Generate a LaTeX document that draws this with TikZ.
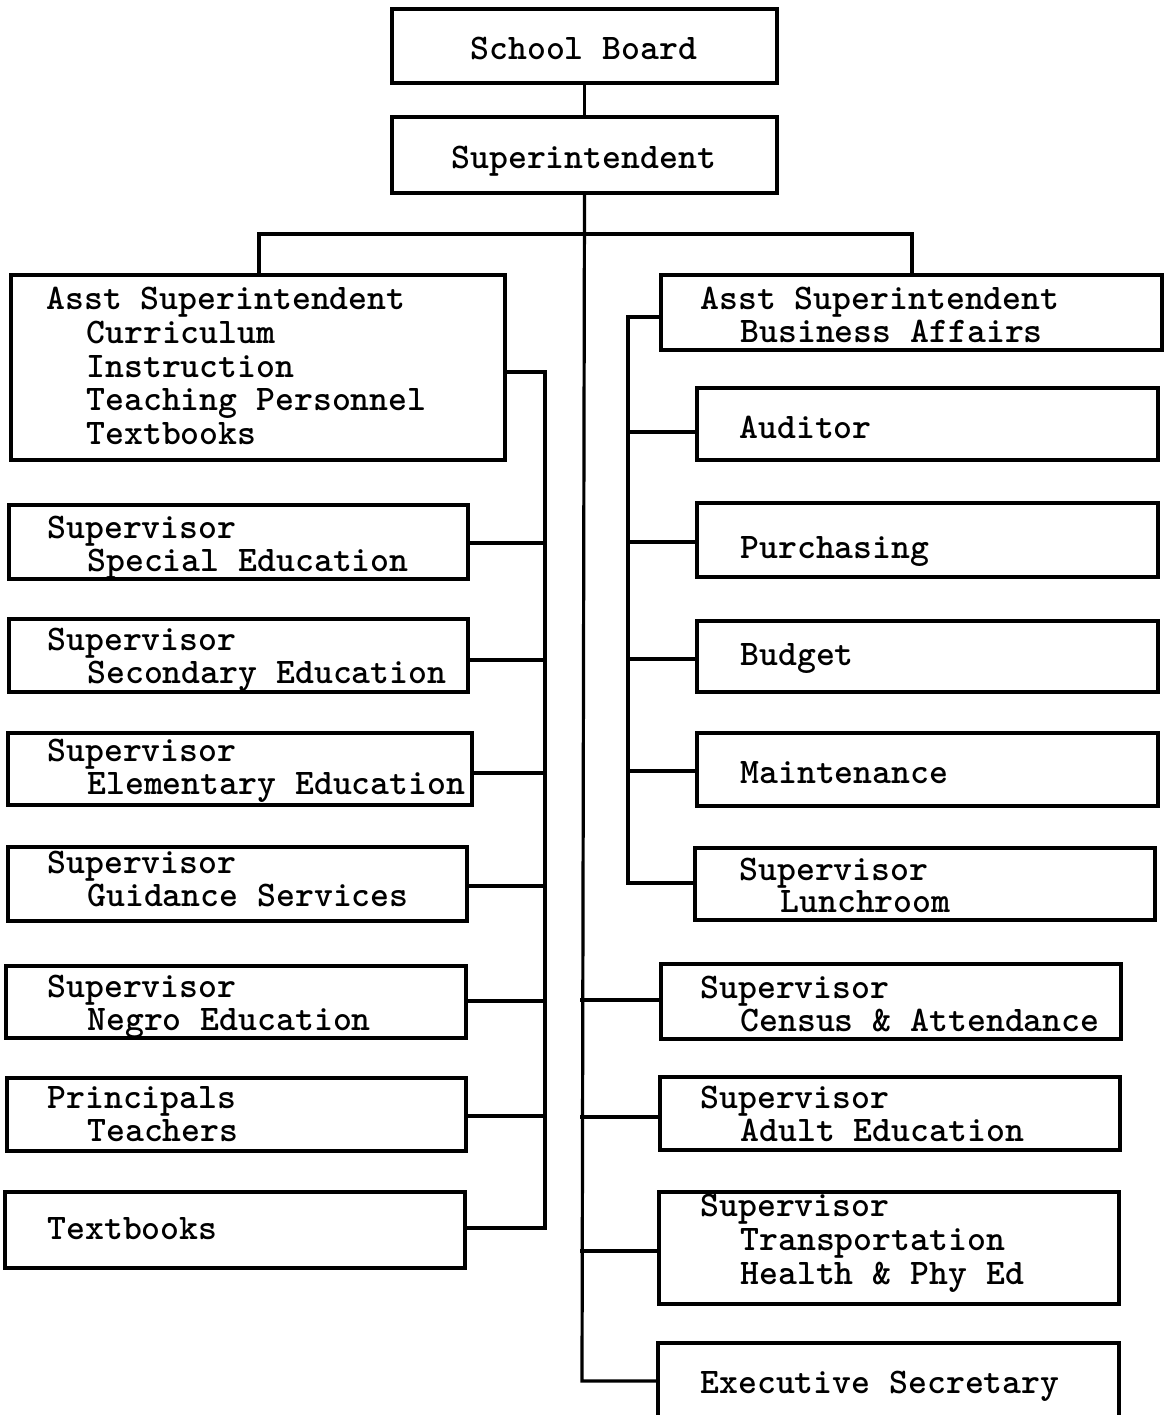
\documentclass[tikz,border=0pt]{standalone}
\usetikzlibrary{fit}

% one unit = one drawing pixel
\tikzset{
  box/.style={draw, line width=1.6pt, inner sep=0pt, rectangle},
  txt/.style={anchor=base west, inner sep=0pt,
    font=\fontsize{18pt}{20pt}\selectfont\ttfamily\bfseries},
  wire/.style={line width=1.6pt, line cap=rect, line join=miter},
}

\begin{document}
\begin{tikzpicture}[x=0.5pt, y=-0.5pt]
\useasboundingbox (0,0) rectangle (1166,1415);

% ---------- top of the chart ----------
\node[box, fit={(392,9)(777,83)}] (board) {};
\node[txt] (board-t) at (470,59) {School Board};
\node[box, fit={(392,117)(777,193)}] (sup) {};
\node[txt] (sup-t) at (451,168) {Superintendent};

% ---------- the two assistant superintendents ----------
\node[box, fit={(11,275)(505,460)}] (asstL) {};
\node[txt] (asstL-1) at (46,309) {Asst Superintendent};
\node[txt] (asstL-2) at (86,343) {Curriculum};
\node[txt] (asstL-3) at (86,377) {Instruction};
\node[txt] (asstL-4) at (86,410.5) {Teaching Personnel};
\node[txt] (asstL-5) at (86,444) {Textbooks};

\node[box, fit={(661,275)(1162,350)}] (asstR) {};
\node[txt] (asstR-1) at (700,309) {Asst Superintendent};
\node[txt] (asstR-2) at (740,342) {Business Affairs};

% ---------- left column ----------
\node[box, fit={(9,505)(468,579)}] (spec) {};
\node[txt] (spec-1) at (47,538) {Supervisor};
\node[txt] (spec-2) at (87,571) {Special Education};

\node[box, fit={(9,619)(468,692)}] (sec) {};
\node[txt] (sec-1) at (47,650) {Supervisor};
\node[txt] (sec-2) at (87,683) {Secondary Education};

\node[box, fit={(8,733)(472,805)}] (elem) {};
\node[txt] (elem-1) at (47,761) {Supervisor};
\node[txt] (elem-2) at (87,794) {Elementary Education};

\node[box, fit={(8,847)(467,921)}] (guid) {};
\node[txt] (guid-1) at (47,873) {Supervisor};
\node[txt] (guid-2) at (87,906) {Guidance Services};

\node[box, fit={(6,966)(466,1038)}] (negro) {};
\node[txt] (negro-1) at (47,997) {Supervisor};
\node[txt] (negro-2) at (87,1030) {Negro Education};

\node[box, fit={(7,1078)(466,1151)}] (princ) {};
\node[txt] (princ-1) at (47,1108) {Principals};
\node[txt] (princ-2) at (87,1141) {Teachers};

\node[box, fit={(5,1192)(465,1268)}] (tbook) {};
\node[txt] (tbook-t) at (47,1239) {Textbooks};

% ---------- business affairs column ----------
\node[box, fit={(697,388)(1158,460)}] (aud) {};
\node[txt] (aud-t) at (739,438) {Auditor};

\node[box, fit={(697,503)(1158,577)}] (purch) {};
\node[txt] (purch-t) at (740,558) {Purchasing};

\node[box, fit={(697,621)(1158,692)}] (budg) {};
\node[txt] (budg-t) at (740,665) {Budget};

\node[box, fit={(697,733)(1158,806)}] (maint) {};
\node[txt] (maint-t) at (740,783) {Maintenance};

\node[box, fit={(695,848)(1155,920)}] (lunch) {};
\node[txt] (lunch-1) at (739,880) {Supervisor};
\node[txt] (lunch-2) at (780,912) {Lunchroom};

% ---------- boxes on the main trunk ----------
\node[box, fit={(661,964)(1121,1039)}] (cens) {};
\node[txt] (cens-1) at (700,998) {Supervisor};
\node[txt] (cens-2) at (740,1031) {Census \& Attendance};

\node[box, fit={(660,1077)(1120,1150)}] (adult) {};
\node[txt] (adult-1) at (700,1108) {Supervisor};
\node[txt] (adult-2) at (740,1141) {Adult Education};

\node[box, fit={(659,1192)(1119,1304)}] (trans) {};
\node[txt] (trans-1) at (700,1216) {Supervisor};
\node[txt] (trans-2) at (740,1250) {Transportation};
\node[txt] (trans-3) at (740,1284) {Health \& Phy Ed};

\node[box, fit={(658,1343)(1119,1430)}] (exec) {};
\node[txt] (exec-t) at (700,1393) {Executive Secretary};

% ---------- bus points ----------
\coordinate (barL)  at (259,234);
\coordinate (barR)  at (912,234);
\coordinate (trEnd) at (582,1381);
\coordinate (lTop)  at (545,372);
\coordinate (lBot)  at (545,1228);
\coordinate (rTop)  at (628,317);
\coordinate (rBot)  at (628,883);

% ---------- connectors ----------
\draw[wire] (board.south) -- (sup.north);
\draw[wire] (sup.south) -- (trEnd) -- (exec.west |- trEnd);
\draw[wire] (barL) -- (barR);
\draw[wire] (barL) -- (barL |- asstL.north);
\draw[wire] (barR) -- (barR |- asstR.north);

% left bus
\draw[wire] (asstL.east |- lTop) -- (lTop) -- (lBot) -- (tbook.east |- lBot);
\foreach \b/\y in {spec/543, sec/660, elem/773, guid/886, negro/1001, princ/1116}
  \draw[wire] (\b.east |- 0,\y) -- (lTop |- 0,\y);

% business bus
\draw[wire] (asstR.west |- rTop) -- (rTop) -- (rBot) -- (lunch.west |- rBot);
\foreach \b/\y in {aud/432, purch/542, budg/659, maint/771}
  \draw[wire] (rTop |- 0,\y) -- (\b.west |- 0,\y);

% branches off the trunk
\foreach \b/\y in {cens/1000, adult/1117, trans/1251}
  \draw[wire] (trEnd |- 0,\y) -- (\b.west |- 0,\y);
\end{tikzpicture}
\end{document}
